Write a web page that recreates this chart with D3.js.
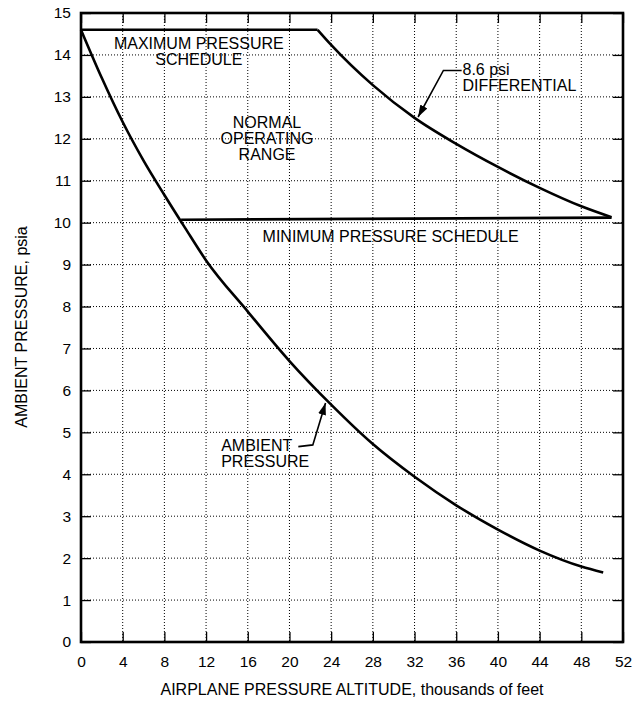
<!DOCTYPE html>
<meta charset="utf-8">
<head>
  <script src="https://cdn.jsdelivr.net/npm/d3@7"></script>
</head>
<style>
body { margin: 0; background: #fff; }
svg { font-family: "Liberation Sans", Arial, sans-serif; }
.grid line { stroke: #000; stroke-width: 1; stroke-dasharray: 1,2; }
.curve { fill: none; stroke: #000; stroke-width: 2.6; }
.axis line { stroke: #000; stroke-width: 1.3; }
.axis text { font-size: 15.5px; fill: #000; }
.label { font-size: 16px; fill: #000; }
.pointer { fill: none; stroke: #000; stroke-width: 1.6; }
</style>
<body>
<div id="chart"></div>
<script>
// tick labels
var altTicks = [0, 4, 8, 12, 16, 20, 24, 28, 32, 36, 40, 44, 48, 52];
var psiTicks = [0, 1, 2, 3, 4, 5, 6, 7, 8, 9, 10, 11, 12, 13, 14, 15];

// ambient pressure curve
var ambientAlt = [0, 2, 4, 6, 8, 10, 12, 16, 20, 24, 28, 32, 36, 40, 44, 48, 50.1];
var ambientPsi = [14.6, 13.45, 12.4, 11.48, 10.66, 9.87, 9.1, 7.88, 6.7, 5.66, 4.72, 3.94, 3.26, 2.68, 2.18, 1.8, 1.66];

// maximum pressure schedule, flat part
var maxFlatAlt = [0, 22.7];
var maxFlatPsi = [14.6, 14.6];

// 8.6 psi differential part
var diffAlt = [22.7, 24, 28, 32, 36, 40, 44, 48, 50.9];
var diffPsi = [14.6, 14.24, 13.28, 12.5, 11.88, 11.33, 10.83, 10.39, 10.13];

// minimum pressure schedule
var minAlt = [9.6, 50.9];
var minPsi = [10.07, 10.12];

var margin = {top: 13, right: 21, bottom: 60, left: 81},
    width = 644 - margin.left - margin.right,
    height = 702 - margin.top - margin.bottom;

var svg = d3.select("#chart")
  .append("svg")
    .attr("width", 644)
    .attr("height", 702)
  .append("g")
    .attr("transform", "translate(" + margin.left + "," + margin.top + ")");

var x = d3.scaleLinear().domain([0, 52]).range([0, width]);
var y = d3.scaleLinear().domain([0, 15]).range([height, 0]);

// dotted grid
var grid = svg.append("g").attr("class", "grid");
grid.selectAll(".vx")
  .data(altTicks.slice(1, -1)).enter()
  .append("line")
    .attr("x1", d => x(d)).attr("x2", d => x(d))
    .attr("y1", 0).attr("y2", height);
grid.selectAll(".hy")
  .data(psiTicks.slice(1, -1)).enter()
  .append("line")
    .attr("x1", 0).attr("x2", width)
    .attr("y1", d => y(d)).attr("y2", d => y(d));

// axes with inward ticks on all four sides
svg.append("g")
  .attr("class", "axis")
  .attr("transform", "translate(0," + height + ")")
  .call(d3.axisBottom(x).tickValues(altTicks).tickSize(-10).tickPadding(14))
  .call(g => g.select(".domain").remove());
svg.append("g")
  .attr("class", "axis")
  .call(d3.axisLeft(y).tickValues(psiTicks).tickSize(-10).tickPadding(10))
  .call(g => g.select(".domain").remove());
svg.append("g")
  .attr("class", "axis")
  .call(d3.axisTop(x).tickValues(altTicks).tickSize(-10).tickFormat(""))
  .call(g => g.select(".domain").remove());
svg.append("g")
  .attr("class", "axis")
  .attr("transform", "translate(" + width + ",0)")
  .call(d3.axisRight(y).tickValues(psiTicks).tickSize(-10).tickFormat(""))
  .call(g => g.select(".domain").remove());

svg.append("rect")
  .attr("width", width)
  .attr("height", height)
  .attr("fill", "none")
  .attr("stroke", "#000")
  .attr("stroke-width", 2.6);

// curves
function pts(a, b) { return a.map(function(d, i) { return [d, b[i]]; }); }

var smooth = d3.line()
  .x(d => x(d[0]))
  .y(d => y(d[1]))
  .curve(d3.curveMonotoneX);
var straight = d3.line()
  .x(d => x(d[0]))
  .y(d => y(d[1]));

svg.append("path").attr("class", "curve").attr("d", smooth(pts(ambientAlt, ambientPsi)));
svg.append("path").attr("class", "curve").attr("d", straight(pts(maxFlatAlt, maxFlatPsi)));
svg.append("path").attr("class", "curve").attr("d", smooth(pts(diffAlt, diffPsi)));
svg.append("path").attr("class", "curve").attr("d", straight(pts(minAlt, minPsi)));

// arrowhead
svg.append("defs").append("marker")
  .attr("id", "head")
  .attr("viewBox", "0 0 12 8")
  .attr("refX", 12).attr("refY", 4)
  .attr("markerUnits", "userSpaceOnUse")
  .attr("markerWidth", 12).attr("markerHeight", 8)
  .attr("orient", "auto")
  .append("path")
    .attr("d", "M0,0 L12,4 L0,8 Z")
    .attr("fill", "#000");

svg.append("path")
  .attr("class", "pointer")
  .attr("marker-end", "url(#head)")
  .attr("d", straight([[36.52, 13.63], [34.77, 13.63], [32.34, 12.52]]));
svg.append("path")
  .attr("class", "pointer")
  .attr("marker-end", "url(#head)")
  .attr("d", straight([[20.85, 4.66], [22.24, 4.70], [23.46, 5.70]]));

// labels
function label(lines, ax, ap, anchor, step) {
  var t = svg.append("text")
    .attr("class", "label")
    .attr("text-anchor", anchor);
  lines.forEach(function(s, i) {
    t.append("tspan")
      .attr("x", x(ax))
      .attr("y", y(ap) + i * step)
      .text(s);
  });
}
label(["MAXIMUM PRESSURE", "SCHEDULE"], 11.3, 14.14, "middle", 16);
label(["NORMAL", "OPERATING", "RANGE"], 17.85, 12.26, "middle", 16);
label(["8.6 psi", "DIFFERENTIAL"], 36.6, 13.52, "start", 16);
label(["MINIMUM PRESSURE SCHEDULE"], 29.7, 9.54, "middle", 0);
label(["AMBIENT", "PRESSURE"], 13.45, 4.55, "start", 16);

// axis titles
svg.append("text")
  .attr("class", "label")
  .attr("text-anchor", "middle")
  .attr("x", width / 2)
  .attr("y", height + 53)
  .text("AIRPLANE PRESSURE ALTITUDE, thousands of feet");

svg.append("text")
  .attr("class", "label")
  .attr("text-anchor", "middle")
  .attr("transform", "translate(" + (27 - margin.left) + "," + (327 - margin.top) + ") rotate(-90)")
  .text("AMBIENT PRESSURE, psia");
</script>
</body>
